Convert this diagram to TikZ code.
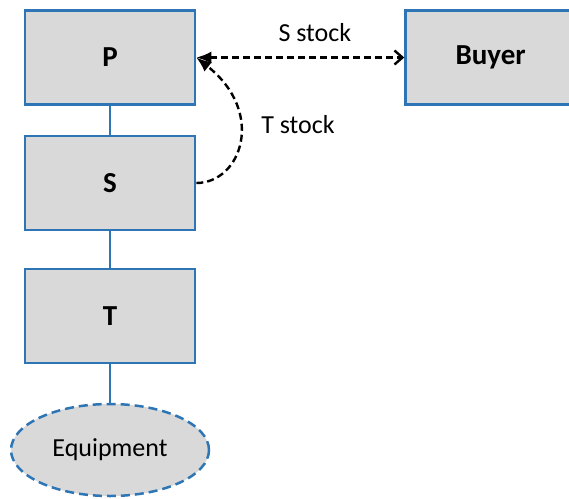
\documentclass[tikz,border=0pt]{standalone}
\usepackage{fontspec}
\setmainfont{Carlito}
\usetikzlibrary{arrows.meta,shapes.geometric,positioning}
\definecolor{tierblue}{RGB}{46,117,182}
\definecolor{tiergray}{RGB}{217,217,217}
\tikzset{%
tier/.style={draw=tierblue, fill=tiergray, line width=2.6pt,
  minimum width=170pt, minimum height=94pt, inner sep=0pt,
  font=\fontsize{29}{32}\selectfont\bfseries},
asset/.style={ellipse, draw=tierblue, fill=tiergray, line width=2.5pt,
  dash pattern=on 9pt off 5pt, minimum width=198pt, minimum height=92pt,
  inner sep=0pt, font=\fontsize{26}{30}\selectfont},
link/.style={draw=tierblue, line width=2.4pt},
flow/.style={line width=2.4pt, dash pattern=on 7pt off 4pt},
flowtext/.style={font=\fontsize{26}{30}\selectfont}
}

\begin{document}
\begin{tikzpicture}[x=1pt,y=-1pt]
\useasboundingbox (0,0) rectangle (569,498);

% supply chain tiers
\node[tier] (P) at (110,57.5) {P};
\node[tier] (S) at (110,183) {S};
\node[tier] (T) at (110,316) {T};
\node[tier, right=208pt of P] (buyer) {Buyer};
\node[asset] (equip) at (110,450) {Equipment};

\draw[link] (P) -- (S);
\draw[link] (S) -- (T);
\draw[link] (T) -- (equip);

% stock flows
\draw[flow, {Latex[length=15pt,width=12pt]}-{Straight Barb[length=8pt,width=14pt]}]
  (P.east) -- node[flowtext, pos=0.57, above=11pt] (slabel) {S stock} (buyer.west);
\draw[flow, -{Latex[length=15pt,width=12pt]}]
  (S.east) .. controls +(45,0) and +(70,55) .. (P.east);
\node[flowtext] (tlabel) at (298,125) {T stock};

\end{tikzpicture}
\end{document}
